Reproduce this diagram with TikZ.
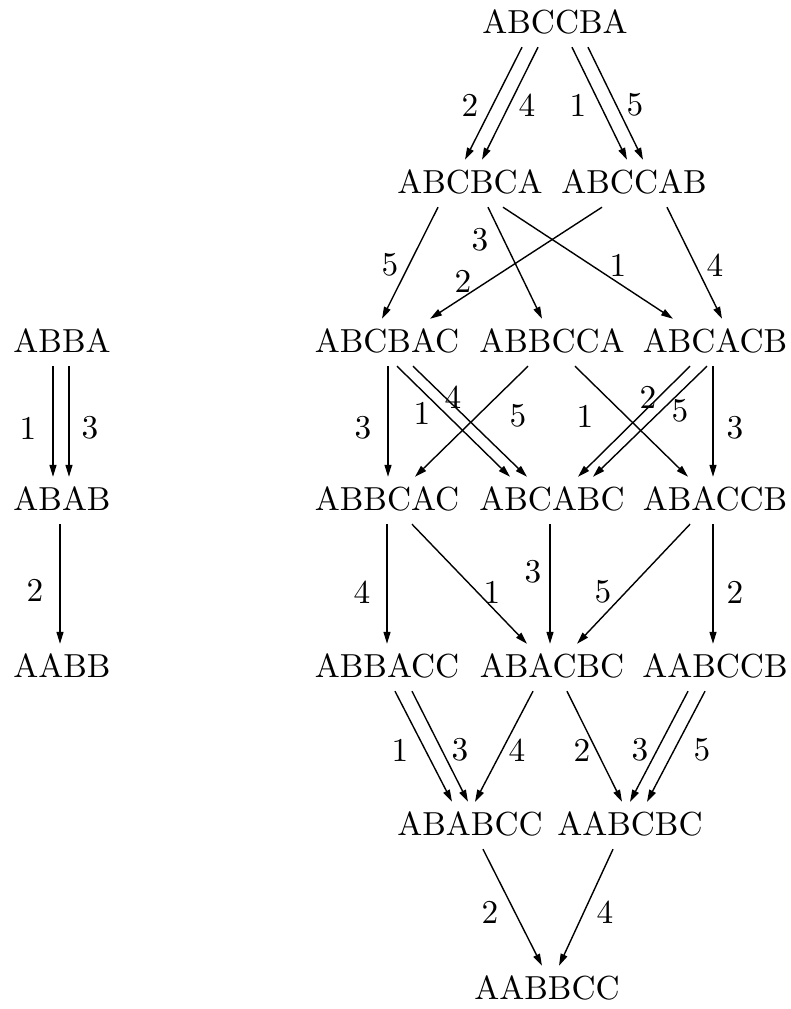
\documentclass[tikz,border=0pt]{standalone}
\usetikzlibrary{arrows.meta}
\newcommand{\bx}[1]{\scalebox{3.33}{#1}}
\begin{document}
\begin{tikzpicture}[x=1pt,y=-1pt,
  st/.style={inner xsep=0pt, inner ysep=10.5pt, text height=23pt, text depth=3pt, anchor=base},
  lab/.style={inner sep=0pt},
  arr/.style={line width=1.4pt, -{Triangle[length=12pt,width=7pt]}}]
\useasboundingbox (0,0) rectangle (790,1009);
% left graph
\node[st] (L1) at (62,352.5) {\bx{ABBA}};
\node[st] (L2) at (62,510.5) {\bx{ABAB}};
\node[st] (L3) at (62,677.5) {\bx{AABB}};
% right graph
\node[st] (T)  at (555,33.5) {\bx{ABCCBA}};
\node[st] (Ra) at (470,193.5) {\bx{ABCBCA}};
\node[st] (Rb) at (634,193.5) {\bx{ABCCAB}};
\node[st] (B1) at (387,352.5) {\bx{ABCBAC}};
\node[st] (B2) at (552,352.5) {\bx{ABBCCA}};
\node[st] (B3) at (715,352.5) {\bx{ABCACB}};
\node[st] (C1) at (387,510.5) {\bx{ABBCAC}};
\node[st] (C2) at (552,510.5) {\bx{ABCABC}};
\node[st] (C3) at (715,510.5) {\bx{ABACCB}};
\node[st] (D1) at (387,677.5) {\bx{ABBACC}};
\node[st] (D2) at (552,677.5) {\bx{ABACBC}};
\node[st] (D3) at (715,677.5) {\bx{AABCCB}};
\node[st] (E1) at (470,835.5) {\bx{ABABCC}};
\node[st] (E2) at (630,835.5) {\bx{AABCBC}};
\node[st] (F)  at (547,999.5) {\bx{AABBCC}};
% left edges
\draw[arr] ([xshift=-9pt]L1.south) -- ([xshift=-9pt]L2.north);
\draw[arr] ([xshift=7pt]L1.south) -- ([xshift=7pt]L2.north);
\draw[arr] ([xshift=-2pt]L2.south) -- ([xshift=-2pt]L3.north);
\node[lab] (m1) at (28,428) {\bx{1}};
\node[lab] (m3) at (90,428) {\bx{3}};
\node[lab] (m2) at (35,590) {\bx{2}};
% row 1 -> 2
\draw[arr] ([xshift=-33pt]T.south) -- ([xshift=-5pt]Ra.north);
\draw[arr] ([xshift=-17pt]T.south) -- ([xshift=12pt]Ra.north);
\draw[arr] ([xshift=17pt]T.south) -- ([xshift=-7pt]Rb.north);
\draw[arr] ([xshift=33pt]T.south) -- ([xshift=9pt]Rb.north);
\node[lab] (a2) at (470,105) {\bx{2}};
\node[lab] (a4) at (527,105) {\bx{4}};
\node[lab] (a1) at (578,105) {\bx{1}};
\node[lab] (a5) at (635,105) {\bx{5}};
% row 2 -> 3
\draw[arr] ([xshift=-32pt]Ra.south) -- ([xshift=-5pt]B1.north);
\draw[arr] ([xshift=18pt]Ra.south) -- ([xshift=-10pt]B2.north);
\draw[arr] ([xshift=33pt]Ra.south) -- ([xshift=-42pt]B3.north);
\draw[arr] ([xshift=-32pt]Rb.south) -- ([xshift=43pt]B1.north);
\draw[arr] ([xshift=33pt]Rb.south) -- ([xshift=7pt]B3.north);
\node[lab] (b5) at (390,265) {\bx{5}};
\node[lab] (b3) at (480,240) {\bx{3}};
\node[lab] (b1) at (618,265) {\bx{1}};
\node[lab] (b2) at (463,281) {\bx{2}};
\node[lab] (b4) at (715,265) {\bx{4}};
% row 3 -> 4
\draw[arr] ([xshift=1pt]B1.south) -- ([xshift=1pt]C1.north);
\draw[arr] ([xshift=10pt]B1.south) -- ([xshift=-42pt]C2.north);
\draw[arr] ([xshift=26pt]B1.south) -- ([xshift=-25pt]C2.north);
\draw[arr] ([xshift=-24pt]B2.south) -- ([xshift=28pt]C1.north);
\draw[arr] ([xshift=23pt]B2.south) -- ([xshift=-27pt]C3.north);
\draw[arr] ([xshift=-25pt]B3.south) -- ([xshift=26pt]C2.north);
\draw[arr] ([xshift=-8pt]B3.south) -- ([xshift=41pt]C2.north);
\draw[arr] ([xshift=-2pt]B3.south) -- ([xshift=-2pt]C3.north);
\node[lab] (c3a) at (363,428) {\bx{3}};
\node[lab] (c1a) at (422,413) {\bx{1}};
\node[lab] (c4)  at (453,397) {\bx{4}};
\node[lab] (c5a) at (518,416) {\bx{5}};
\node[lab] (c1b) at (585,416) {\bx{1}};
\node[lab] (c2)  at (648,397) {\bx{2}};
\node[lab] (c5b) at (680,411) {\bx{5}};
\node[lab] (c3b) at (735,428) {\bx{3}};
% row 4 -> 5
\draw[arr] ([xshift=0pt]C1.south) -- ([xshift=0pt]D1.north);
\draw[arr] ([xshift=25pt]C1.south) -- ([xshift=-25pt]D2.north);
\draw[arr] ([xshift=-2pt]C2.south) -- ([xshift=-2pt]D2.north);
\draw[arr] ([xshift=-25pt]C3.south) -- ([xshift=25pt]D2.north);
\draw[arr] ([xshift=-2pt]C3.south) -- ([xshift=-2pt]D3.north);
\node[lab] (d4) at (362,592) {\bx{4}};
\node[lab] (d1) at (492,592) {\bx{1}};
\node[lab] (d3) at (533,572) {\bx{3}};
\node[lab] (d5) at (603,592) {\bx{5}};
\node[lab] (d2) at (735,592) {\bx{2}};
% row 5 -> 6
\draw[arr] ([xshift=8pt]D1.south) -- ([xshift=-18pt]E1.north);
\draw[arr] ([xshift=25pt]D1.south) -- ([xshift=-2pt]E1.north);
\draw[arr] ([xshift=-19pt]D2.south) -- ([xshift=5pt]E1.north);
\draw[arr] ([xshift=15pt]D2.south) -- ([xshift=-8pt]E2.north);
\draw[arr] ([xshift=-27pt]D3.south) -- ([xshift=0pt]E2.north);
\draw[arr] ([xshift=-10pt]D3.south) -- ([xshift=17pt]E2.north);
\node[lab] (e1)  at (400,750) {\bx{1}};
\node[lab] (e3a) at (460,750) {\bx{3}};
\node[lab] (e4)  at (517,750) {\bx{4}};
\node[lab] (e2)  at (582,750) {\bx{2}};
\node[lab] (e3b) at (640,750) {\bx{3}};
\node[lab] (e5)  at (702,750) {\bx{5}};
% row 6 -> 7
\draw[arr] ([xshift=13pt]E1.south) -- ([xshift=-5pt]F.north);
\draw[arr] ([xshift=-17pt]E2.south) -- ([xshift=12pt]F.north);
\node[lab] (f2) at (490,912) {\bx{2}};
\node[lab] (f4) at (605,912) {\bx{4}};
\end{tikzpicture}
\end{document}
